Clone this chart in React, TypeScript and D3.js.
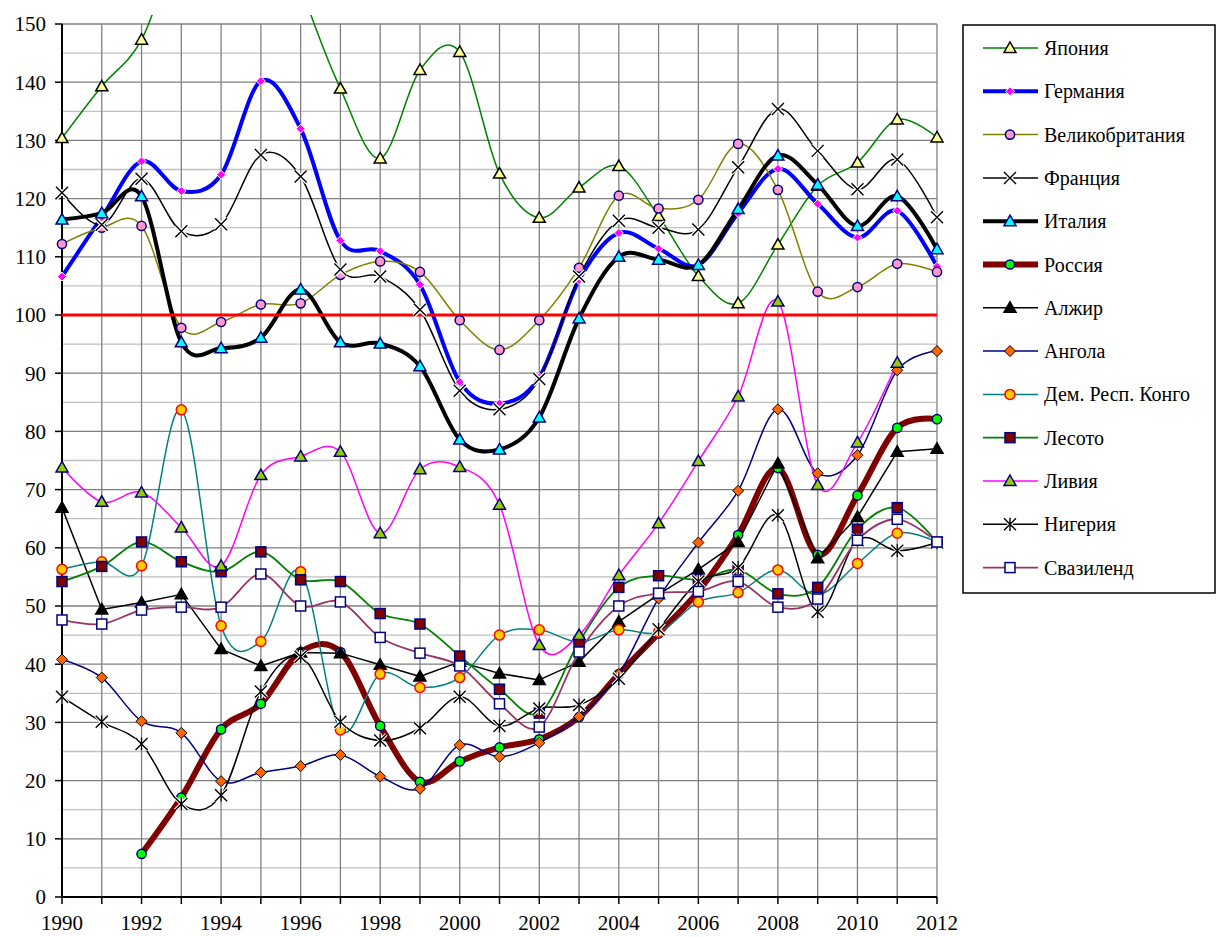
import * as d3 from "d3";

const years = [
  1990, 1991, 1992, 1993, 1994, 1995, 1996, 1997, 1998, 1999, 2000, 2001,
  2002, 2003, 2004, 2005, 2006, 2007, 2008, 2009, 2010, 2011, 2012,
];
const yTicks = [0, 10, 20, 30, 40, 50, 60, 70, 80, 90, 100, 110, 120, 130, 140, 150];
const xLabels = [1990, 1992, 1994, 1996, 1998, 2000, 2002, 2004, 2006, 2008, 2010, 2012];

const japan = [130.4, 139.3, 147.3, 165, 175, 178, 156.5, 138.9, 126.9, 142.1, 145.2, 124.3, 116.7, 121.9, 125.6, 117.0, 106.7, 102.0, 112.1, 122.2, 126.2, 133.6, 130.5];
const germany = [106.6, 116.8, 126.4, 121.3, 124.1, 140.2, 132.0, 112.8, 111.0, 105.2, 88.5, 84.8, 89.3, 106.0, 114.1, 111.4, 108.6, 117.5, 125.1, 119.1, 113.3, 117.9, 108.3];
const uk = [112.2, 115.0, 115.3, 97.8, 98.8, 101.8, 102.0, 106.9, 109.2, 107.4, 99.1, 94.0, 99.1, 108.1, 120.5, 118.3, 119.8, 129.4, 121.5, 104.0, 104.8, 108.8, 107.4];
const france = [121.0, 115.5, 123.4, 114.4, 115.6, 127.5, 123.8, 107.8, 106.6, 100.9, 87.0, 83.8, 89.0, 106.6, 116.2, 115.0, 114.7, 125.4, 135.4, 128.2, 121.6, 126.7, 116.8];
const italy = [116.4, 117.5, 120.4, 95.3, 94.3, 96.1, 104.4, 95.3, 95.1, 91.2, 78.6, 76.9, 82.4, 99.4, 110.0, 109.5, 108.6, 118.2, 127.4, 122.4, 115.3, 120.4, 111.3];
const russia = [null, null, 7.4, 17.1, 28.8, 33.2, 42.1, 42.1, 29.4, 19.8, 23.3, 25.7, 27.1, 30.9, 38.3, 45.3, 52.5, 62.2, 73.7, 58.8, 69.0, 80.6, 82.1];
const algeria = [66.9, 49.4, 50.6, 52.0, 42.6, 39.7, 42.0, 41.9, 39.9, 37.9, 40.4, 38.4, 37.3, 40.4, 47.3, 52.0, 56.3, 61.0, 74.5, 58.2, 65.3, 76.5, 77.0];
const angola = [40.8, 37.7, 30.2, 28.2, 19.9, 21.4, 22.5, 24.4, 20.7, 18.6, 26.1, 24.1, 26.5, 31.0, 38.3, 51.3, 60.9, 69.8, 83.8, 72.8, 75.9, 90.5, 93.8];
const congo = [56.3, 57.6, 56.9, 83.7, 46.6, 43.9, 55.9, 28.7, 38.3, 36.0, 37.7, 45.0, 45.9, 43.8, 45.9, 45.5, 50.7, 52.3, 56.2, 51.9, 57.3, 62.5, 61.0];
const lesotho = [54.2, 56.8, 61.0, 57.6, 55.9, 59.3, 54.5, 54.2, 48.7, 46.9, 41.4, 35.7, 31.6, 43.8, 53.2, 55.2, 54.5, 56.2, 52.1, 53.2, 63.2, 66.9, 61.0];
const libya = [73.8, 67.9, 69.5, 63.5, 56.9, 72.5, 75.7, 76.5, 62.5, 73.5, 73.9, 67.4, 43.3, 45.0, 55.3, 64.2, 74.9, 86.0, 102.3, 70.8, 78.1, 91.8, null];
const nigeria = [34.4, 30.1, 26.3, 16.0, 17.5, 35.3, 41.3, 30.1, 26.9, 29.0, 34.4, 29.4, 32.4, 33.0, 37.5, 46.0, 54.2, 56.6, 65.6, 49.0, 61.3, 59.5, 60.9];
const swaziland = [47.6, 46.9, 49.3, 49.8, 49.8, 55.5, 50.0, 50.7, 44.6, 41.9, 39.7, 33.2, 29.2, 42.1, 50.0, 52.2, 52.5, 54.2, 49.8, 51.2, 61.3, 64.9, 61.0];

type Marker = "triangle" | "diamond" | "circle" | "x" | "square" | "star";
interface Series {
  name: string;
  values: (number | null)[];
  color: string;
  width: number;
  marker: Marker;
  fill: string;
  stroke: string;
  size: number;
  smooth: boolean;
}

const series: Series[] = [
  { name: "Япония", values: japan, color: "#008000", width: 1.5, marker: "triangle", fill: "#FFFF99", stroke: "#000", size: 6, smooth: true },
  { name: "Германия", values: germany, color: "#0000FF", width: 4, marker: "diamond", fill: "#FF00FF", stroke: "#fff", size: 4.5, smooth: true },
  { name: "Великобритания", values: uk, color: "#808000", width: 1.5, marker: "circle", fill: "#FF99CC", stroke: "#000080", size: 4.6, smooth: true },
  { name: "Франция", values: france, color: "#000", width: 1.5, marker: "x", fill: "none", stroke: "#000", size: 6, smooth: true },
  { name: "Италия", values: italy, color: "#000", width: 4, marker: "triangle", fill: "#00FFFF", stroke: "#000080", size: 6, smooth: true },
  { name: "Россия", values: russia, color: "#800000", width: 6, marker: "circle", fill: "#00FF00", stroke: "#000080", size: 4.6, smooth: true },
  { name: "Алжир", values: algeria, color: "#000", width: 1.5, marker: "triangle", fill: "#000", stroke: "#000", size: 6, smooth: false },
  { name: "Ангола", values: angola, color: "#000080", width: 1.5, marker: "diamond", fill: "#FF6600", stroke: "#000", size: 5.5, smooth: true },
  { name: "Дем. Респ. Конго", values: congo, color: "#008080", width: 1.5, marker: "circle", fill: "#FFCC00", stroke: "#FF0000", size: 5, smooth: true },
  { name: "Лесото", values: lesotho, color: "#008000", width: 1.8, marker: "square", fill: "#800000", stroke: "#000080", size: 5, smooth: true },
  { name: "Ливия", values: libya, color: "#FF00FF", width: 1.5, marker: "triangle", fill: "#99CC00", stroke: "#000080", size: 6, smooth: true },
  { name: "Нигерия", values: nigeria, color: "#000", width: 1.5, marker: "star", fill: "none", stroke: "#000", size: 6, smooth: true },
  { name: "Свазиленд", values: swaziland, color: "#993366", width: 1.8, marker: "square", fill: "#fff", stroke: "#000080", size: 5, smooth: true },
];

const W = 1221;
const H = 937;
const font = '"Liberation Serif", "DejaVu Serif", "Times New Roman", serif';

const x = d3.scaleLinear().domain([1990, 2012]).range([62, 937]);
const y = d3.scaleLinear().domain([0, 150]).range([897, 24]);

function drawMarker(s: Series, cx: number, cy: number, key: string) {
  const r = s.size;
  switch (s.marker) {
    case "triangle":
      return (
        <path key={key} d={`M${cx},${cy - r}L${cx + r},${cy + r * 0.75}L${cx - r},${cy + r * 0.75}Z`}
          fill={s.fill} stroke={s.stroke} strokeWidth={1.5} strokeLinejoin="miter" />
      );
    case "diamond":
      return (
        <path key={key} d={`M${cx},${cy - r}L${cx + r},${cy}L${cx},${cy + r}L${cx - r},${cy}Z`}
          fill={s.fill} stroke={s.stroke} strokeWidth={1} />
      );
    case "circle":
      return <circle key={key} cx={cx} cy={cy} r={r} fill={s.fill} stroke={s.stroke} strokeWidth={1.5} />;
    case "square":
      return (
        <rect key={key} x={cx - r} y={cy - r} width={2 * r} height={2 * r}
          fill={s.fill} stroke={s.stroke} strokeWidth={1.5} />
      );
    case "x": {
      const d = `M${cx - r},${cy - r}L${cx + r},${cy + r}M${cx + r},${cy - r}L${cx - r},${cy + r}`;
      return (
        <g key={key}>
          <path d={d} stroke="#fff" strokeWidth={4} />
          <path d={d} stroke="#000" strokeWidth={1.4} />
        </g>
      );
    }
    case "star": {
      const d = `M${cx - r},${cy - r}L${cx + r},${cy + r}M${cx + r},${cy - r}L${cx - r},${cy + r}M${cx},${cy - r * 1.1}L${cx},${cy + r * 1.1}`;
      return (
        <g key={key}>
          <path d={d} stroke="#fff" strokeWidth={3.5} />
          <path d={d} stroke="#000" strokeWidth={1.4} />
        </g>
      );
    }
  }
}

export default function App() {
  const minorTicks = d3.range(5, 150, 10);
  const textStyle = { fontFamily: font };

  return (
    <div style={{ position: "absolute", left: 0, top: 0 }}>
      <svg width={W} height={H} style={{ display: "block", background: "#fff", fontFamily: font }}>
        <defs>
          <clipPath id="plotClip">
            <rect x={0} y={15} width={W} height={H - 15} />
          </clipPath>
        </defs>

        {/* grid */}
        {minorTicks.map((t) => (
          <line key={`mg${t}`} x1={x(1990)} x2={x(2012)} y1={y(t)} y2={y(t)} stroke="#C0C0C0" strokeWidth={1.3} />
        ))}
        {yTicks.slice(1).map((t) => (
          <line key={`g${t}`} x1={x(1990)} x2={x(2012)} y1={y(t)} y2={y(t)} stroke="#808080" strokeWidth={1.3} />
        ))}
        {years.slice(1).map((yr) => (
          <line key={`v${yr}`} x1={x(yr)} x2={x(yr)} y1={y(150)} y2={y(0)} stroke="#808080" strokeWidth={1.3} />
        ))}

        {/* axes */}
        <line x1={x(1990)} x2={x(1990)} y1={y(150)} y2={y(0)} stroke="#000" strokeWidth={2} />
        <line x1={x(1990)} x2={x(2012)} y1={y(0)} y2={y(0)} stroke="#000" strokeWidth={2} />
        {yTicks.map((t) => (
          <g key={`yt${t}`}>
            <line x1={x(1990) - 7} x2={x(1990)} y1={y(t)} y2={y(t)} stroke="#000" strokeWidth={1.5} />
            <text x={46} y={y(t)} dy="0.35em" textAnchor="end" fontSize={21} fill="#000" style={textStyle}>
              {t}
            </text>
          </g>
        ))}
        {years.map((yr) => (
          <line key={`xt${yr}`} x1={x(yr)} x2={x(yr)} y1={y(0)} y2={y(0) + 7} stroke="#000" strokeWidth={1.5} />
        ))}
        {xLabels.map((yr) => (
          <text key={`xl${yr}`} x={x(yr)} y={930} textAnchor="middle" fontSize={21} fill="#000" style={textStyle}>
            {yr}
          </text>
        ))}

        {/* lines */}
        <g clipPath="url(#plotClip)">
          {series.map((s) => {
            const line = d3
              .line<number | null>()
              .defined((d) => d != null)
              .x((_, i) => x(years[i]))
              .y((d) => y(d as number))
              .curve(s.smooth ? d3.curveCardinal.tension(0) : d3.curveLinear);
            return (
              <path key={`l${s.name}`} d={line(s.values) || ""} fill="none" stroke={s.color}
                strokeWidth={s.width} strokeLinejoin="round" strokeLinecap="round" />
            );
          })}
        </g>

        {/* reference line at 100 */}
        <line x1={x(1990)} x2={x(2012)} y1={y(100)} y2={y(100)} stroke="#FF0000" strokeWidth={3} />

        {/* markers */}
        {series.map((s) => (
          <g key={`m${s.name}`}>
            {s.values.map((v, i) =>
              v == null || v > 150 ? null : drawMarker(s, x(years[i]), y(v), `${s.name}${i}`)
            )}
          </g>
        ))}

        {/* legend */}
        <rect x={963} y={25} width={252} height={568} fill="#fff" stroke="#000" strokeWidth={1.5} />
        {series.map((s, i) => {
          const ly = 48 + i * 43.3;
          return (
            <g key={`lg${s.name}`}>
              <line x1={983} x2={1038} y1={ly} y2={ly} stroke={s.color} strokeWidth={s.width} />
              {drawMarker(s, 1010, ly, `lgm${i}`)}
              <text x={1044} y={ly} dy="0.35em" fontSize={20} fill="#000" style={textStyle}>
                {s.name}
              </text>
            </g>
          );
        })}
      </svg>
    </div>
  );
}
